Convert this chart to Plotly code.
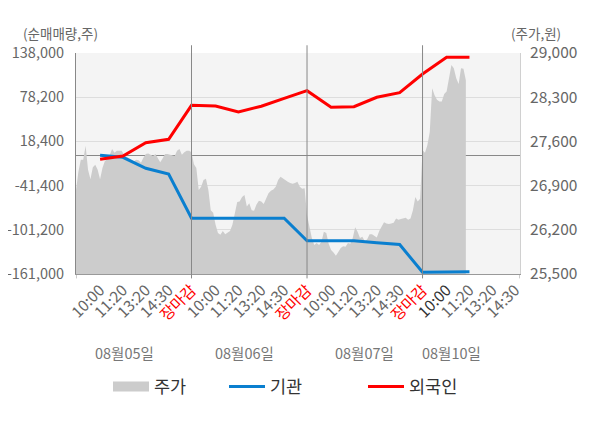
import plotly.graph_objects as go

# 일자 / 시각 라벨
days = ["08월05일", "08월06일", "08월07일", "08월10일"]
times = ["10:00", "11:20", "13:20", "14:30", "장마감"]
slot = [10, 19.5, 29, 38.5, 48]   # 하루(48칸) 안에서 각 시각의 위치
per_day = 48

# 주가 (원) - 일자별
price_d1 = [26830, 27120, 27310, 27310, 27530, 27150, 27000, 27190, 27230, 27150,
            27000, 27180, 27290, 27320, 27380, 27480, 27420, 27450, 27450, 27450,
            27380, 27360, 27340, 27310, 27280, 27310, 27300, 27260, 27340, 27400,
            27410, 27390, 27370, 27400, 27340, 27270, 27330, 27400, 27400, 27390,
            27380, 27370, 27450, 27480, 27390, 27430, 27450, 27450]
price_d2 = [27430, 27240, 27180, 26830, 26880, 26990, 27010, 26830, 26510, 26470,
            26280, 26150, 26120, 26180, 26130, 26160, 26180, 26280, 26480, 26640,
            26650, 26720, 26750, 26570, 26620, 26510, 26500, 26600, 26660, 26650,
            26610, 26690, 26780, 26820, 26840, 26880, 26990, 27040, 27010, 26990,
            26960, 26940, 26930, 26940, 26960, 26880, 26850, 26860]
price_d3 = [26430, 26250, 26070, 25960, 25990, 25960, 26010, 26170, 26150, 25980,
            25880, 25840, 25790, 25850, 25910, 25940, 25930, 25990, 25980, 26070,
            26240, 26170, 26070, 26090, 26020, 26050, 26130, 26130, 26110, 26080,
            26180, 26250, 26320, 26300, 26290, 26300, 26310, 26380, 26360, 26370,
            26380, 26390, 26360, 26380, 26510, 26720, 26650, 26690]
price_d4 = [27460, 27420, 27540, 27750, 28440, 28330, 28260, 28230, 28230, 28350,
            28390, 28600, 28810, 28760, 28600, 28510, 28760, 28750, 28570]

# 누적 순매매량 (주) - 10:00, 11:20, 13:20, 14:30, 장마감
inst = [-400, -3100, -18000, -25700, -85600,
        -85600, -85600, -85600, -85600, -116000,
        -116000, -116000, -118700, -121100, -158700,
        -158300, -158000]
foreign = [-5800, -1400, 16600, 21200, 67200,
           66300, 58200, 66000, 76700, 87000,
           64500, 65300, 78100, 84300, 109600,
           132200, 132200]

left_ticks = [-161000, -101200, -41400, 18400, 78200, 138000]
right_ticks = [25500, 26200, 26900, 27600, 28300, 29000]

prices = price_d1 + price_d2 + price_d3 + price_d4
px = list(range(len(prices)))

# 라인 x 위치 (마지막 날은 11:20까지)
line_x = []
for d in range(len(days)):
    for s in slot:
        line_x.append(d * per_day + s)
line_x = line_x[:len(inst)]

# x축 라벨
tick_x, tick_t = [], []
for d in range(len(days)):
    for i, t in enumerate(times):
        if d == len(days) - 1 and t == "장마감":
            continue
        tick_x.append(d * per_day + slot[i])
        if t == "장마감":
            tick_t.append('<span style="color:#ff0000">장마감</span>')
        elif d == len(days) - 1 and i == 0:
            tick_t.append('<span style="color:#333333">' + t + '</span>')
        else:
            tick_t.append(t)

x_end = 184.5

fig = go.Figure()
fig.add_trace(go.Scatter(x=px, y=prices, name="주가", mode="lines",
                         line=dict(width=0, color="#cccccc"),
                         fill="tozeroy", fillcolor="#cccccc",
                         yaxis="y", showlegend=False, hoverinfo="skip"))
# 범례용 (두꺼운 회색 막대)
fig.add_trace(go.Scatter(x=[None], y=[None], name="주가", mode="lines",
                         line=dict(width=15, color="#cccccc"),
                         yaxis="y", legend="legend"))
fig.add_trace(go.Scatter(x=line_x, y=inst, name="기관", mode="lines",
                         line=dict(width=3, color="#0a7fcf"),
                         yaxis="y2", legend="legend2"))
fig.add_trace(go.Scatter(x=line_x, y=foreign, name="외국인", mode="lines",
                         line=dict(width=3, color="#ff0000"),
                         yaxis="y2", legend="legend3"))

shapes = []
for d in range(1, len(days)):
    shapes.append(dict(type="line", xref="x", yref="paper",
                       x0=d * per_day, x1=d * per_day, y0=-0.02, y1=1.035,
                       line=dict(color="#888888", width=1), layer="above"))
for xe in [0, x_end]:
    shapes.append(dict(type="line", xref="x", yref="paper",
                       x0=xe, x1=xe, y0=-0.02, y1=0,
                       line=dict(color="#999999", width=1)))

annotations = [
    dict(text="(순매매량,주)", xref="paper", yref="paper", x=-0.034, y=1.09,
         showarrow=False, xanchor="center", yanchor="middle",
         font=dict(size=13.5, color="#666666")),
    dict(text="(주가,원)", xref="paper", yref="paper", x=1.035, y=1.09,
         showarrow=False, xanchor="center", yanchor="middle",
         font=dict(size=13.5, color="#666666")),
]
date_x = [20, 70, 120, 156]
for d, name in enumerate(days):
    annotations.append(dict(text=name, xref="x", yref="paper", x=date_x[d], y=-0.357,
                            showarrow=False, xanchor="center", yanchor="middle",
                            font=dict(size=14.5, color="#777777")))

leg = dict(orientation="h", yanchor="middle", y=-0.51, xanchor="left",
           itemwidth=36, font=dict(size=17.5, color="#333333"),
           bgcolor="rgba(0,0,0,0)")

fig.update_layout(
    width=600, height=428,
    # 페이지 기본 여백(8px)을 감안한 여백
    margin=dict(l=68, r=88, t=45, b=162),
    paper_bgcolor="white", plot_bgcolor="#f4f4f4",
    font=dict(family="Noto Sans CJK KR, Noto Sans, sans-serif", color="#666666"),
    showlegend=True,
    legend=dict(leg, x=(108 - 76) / 444),
    legend2=dict(leg, x=(224 - 76) / 444),
    legend3=dict(leg, x=(363 - 76) / 444),
    xaxis=dict(range=[0, x_end], tickmode="array", tickvals=tick_x, ticktext=tick_t,
               tickangle=-45, tickfont=dict(size=15.5, color="#666666"),
               showgrid=False, zeroline=False, showline=True, automargin=False,
               linecolor="#999999", linewidth=1, ticks=""),
    yaxis=dict(side="right", range=[25500, 29000], tickvals=right_ticks,
               tickformat=",d", tickfont=dict(size=15.5, color="#666666"),
               showgrid=False, zeroline=False, showline=True, automargin=False,
               linecolor="#d0d0d0", ticks="", ticklabelstandoff=6),
    yaxis2=dict(side="left", overlaying="y", range=[-161000, 138000],
                tickvals=left_ticks, ticktext=[f"{v:,}" for v in left_ticks],
                tickfont=dict(size=14.5, color="#666666"), automargin=False,
                showgrid=True, gridcolor="#dddddd", gridwidth=1,
                zeroline=True, zerolinecolor="#888888", zerolinewidth=1,
                showline=True, linecolor="#888888", ticks="", ticklabelstandoff=8),
    shapes=shapes,
    annotations=annotations,
)

fig.write_html("out.html")
